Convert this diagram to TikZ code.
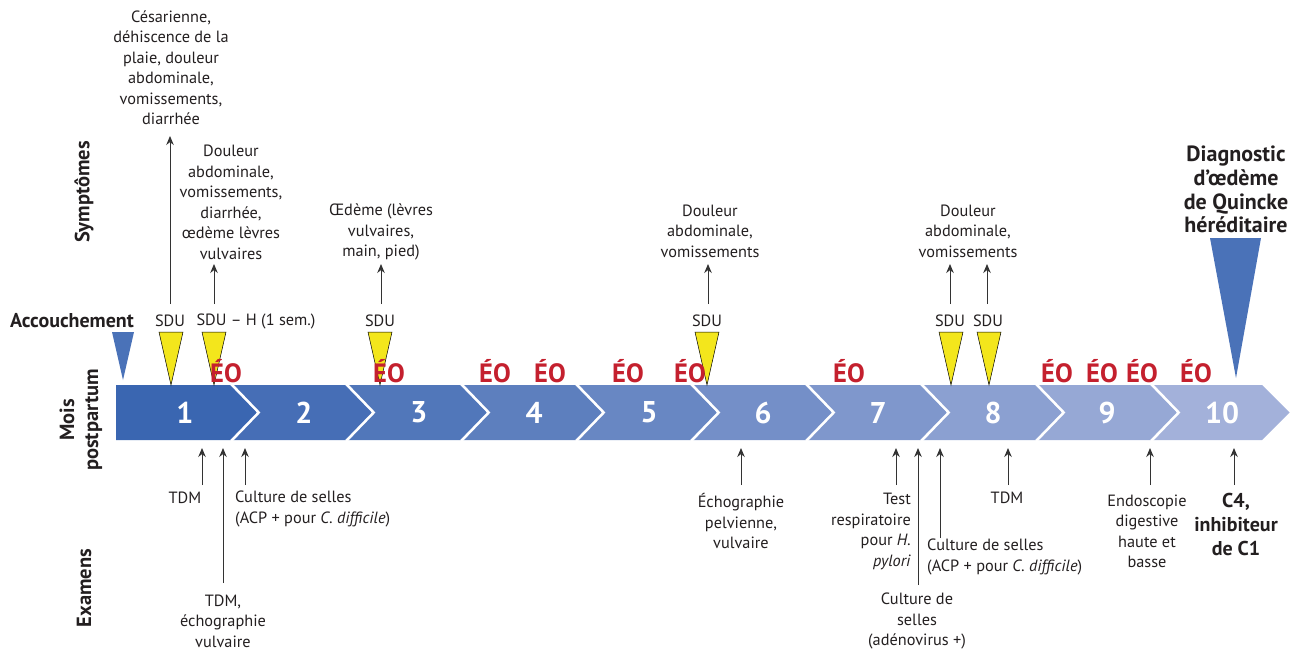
\documentclass[tikz,border=0pt]{standalone}
\usepackage{fontspec}
\setmainfont{PT Sans}
\usetikzlibrary{arrows.meta}
\definecolor{txtc}{HTML}{231F20}
\definecolor{eored}{HTML}{C4202E}
\definecolor{sduy}{HTML}{F3E61C}
\definecolor{mblue}{HTML}{4A72B8}
\definecolor{cA}{HTML}{3A66B1}
\definecolor{cB}{HTML}{A3B1DA}
\definecolor{arrc}{HTML}{333333}
\tikzset{
  txt/.style={font=\fontsize{16.3}{20.5}\selectfont, align=center, inner sep=0pt, text=txtc},
  btxt/.style={font=\bfseries\fontsize{22}{23.7}\selectfont, align=center, inner sep=0pt, text=txtc},
  ctxt/.style={font=\bfseries\fontsize{20}{24}\selectfont, align=center, inner sep=0pt, text=txtc},
  eo/.style={font=\bfseries\fontsize{26.5}{26.5}\selectfont, text=eored, inner sep=0pt},
  num/.style={font=\bfseries\fontsize{30}{30}\selectfont, text=white, inner sep=0pt},
  side/.style={font=\bfseries\fontsize{20.5}{24}\selectfont, rotate=90, align=center, inner sep=0pt, text=txtc},
  arr/.style={-{Stealth[length=9pt,width=7.5pt]}, line width=0.9pt, draw=arrc},
  sdutri/.style={fill=sduy, draw=black, line width=0.5pt},
  bluetri/.style={fill=mblue},
}
\begin{document}
\begin{tikzpicture}[x=1pt,y=-1pt]
\useasboundingbox (0,0) rectangle (1294,654);

% ---- chevron band ----
\foreach \k in {1,...,10} {
  \pgfmathtruncatemacro\p{(\k-1)/9*100}
  \colorlet{chc}{cB!\p!cA}
  \pgfmathsetmacro\R{\k==10 ? 1262 : 230+115*(\k-1)}
  \pgfmathsetmacro\L{230+115*(\k-2)}
  \ifnum\k=1
    \fill[chc] (116,385) -- (\R,385) -- (\R+27.5,412.5) -- (\R,440) -- (116,440) -- cycle;
  \else
    \fill[chc] (\L,385) -- (\R,385) -- (\R+27.5,412.5) -- (\R,440) -- (\L,440) -- (\L+27.5,412.5) -- cycle;
  \fi
}
\foreach \k in {1,...,9} {
  \pgfmathsetmacro\R{230+115*(\k-1)}
  \draw[white, line width=2.5pt] (\R+1.2,384) -- (\R+28.7,412.5) -- (\R+1.2,441);
}
\foreach \x [count=\i] in {185,304,419,534,649,763,878,993,1107,1222}
  \node[num] (n\i) at (\x,412.5) {\i};

% ---- markers ----
\fill[bluetri] (112,332) -- (134,332) -- (123,380) -- cycle;
\coordinate (acc) at (123,380);
\foreach \x [count=\i] in {171,214,380,707,951,989} {
  \draw[sdutri] (\x-12,332) -- (\x+12,332) -- (\x,385) -- cycle;
  \coordinate (m\i) at (\x,385);
}
\fill[bluetri] (1210,238) -- (1261,238) -- (1236,378) -- cycle;
\coordinate (dg) at (1236,378);

% ---- ÉO ----
\foreach \x [count=\i] in {226,389,495,550,628,690,849,1057,1102,1142,1196}
  \node[eo] (eo\i) at (\x,371) {ÉO};

% ---- side labels ----
\node[side] (symp) at (84,192) {Symptômes};
\node[side] (mois) at (81,420) {Mois\\postpartum};
\node[side] (exam) at (84,588) {Examens};
\node[font=\bfseries\fontsize{20}{24}\selectfont, inner sep=0pt, text=txtc] (accl) at (72,321) {Accouchement};

% ---- SDU labels ----
\node[txt] (sdu1) at (170,321) {SDU};
\node[txt] (sdu2) at (256,321) {SDU – H (1 sem.)};
\node[txt] (sdu3) at (380,321) {SDU};
\node[txt] (sdu4) at (707,321) {SDU};
\node[txt] (sdu5) at (950,321) {SDU};
\node[txt] (sdu6) at (988,321) {SDU};

% ---- symptoms ----
\node[txt] (ces) at (171,67.5) {Césarienne,\\déhiscence de la\\plaie, douleur\\abdominale,\\vomissements,\\diarrhée};
\node[txt] (dou1) at (231,202.5) {Douleur\\abdominale,\\vomissements,\\diarrhée,\\œdème lèvres\\vulvaires};
\node[txt] (oed) at (381,232) {Œdème (lèvres\\vulvaires,\\main, pied)};
\node[txt] (dou6) at (710,231) {Douleur\\abdominale,\\vomissements};
\node[txt] (dou8) at (968,231) {Douleur\\abdominale,\\vomissements};

\coordinate (a1b) at (170,304); \coordinate (a1t) at (170,136);
\coordinate (a2b) at (214,304); \coordinate (a2t) at (214,264);
\coordinate (a3b) at (381,304); \coordinate (a3t) at (381,264);
\coordinate (a4b) at (708,304); \coordinate (a4t) at (708,264);
\coordinate (a5b) at (950,304); \coordinate (a5t) at (950,264);
\coordinate (a6b) at (987,304); \coordinate (a6t) at (987,264);
\foreach \i in {1,...,6} \draw[arr] (a\i b) -- (a\i t);

% ---- diagnostic ----
\node[btxt] (diag) at (1236,189.5) {Diagnostic\\d’œdème\\de Quincke\\héréditaire};

% ---- exams ----
\node[txt] (tdm1) at (185,498) {TDM};
\node[txt, align=left, anchor=west] (cul1) at (235,509) {Culture de selles\\(ACP + pour \textit{C. difficile})};
\node[txt] (tdme) at (223,621) {TDM,\\échographie\\vulvaire};
\node[txt] (echo) at (741,521) {Échographie\\pelvienne,\\vulvaire};
\node[txt, align=right, anchor=east] (test) at (911,531.5) {Test\\respiratoire\\pour \textit{H.}\\\textit{pylori}};
\node[txt, align=left, anchor=west] (cul2) at (927,557) {Culture de selles\\(ACP + pour \textit{C. difficile})};
\node[txt] (cul3) at (917,621) {Culture de\\selles\\(adénovirus +)};
\node[txt] (tdm8) at (1007,498) {TDM};
\node[txt] (endo) at (1147,531.5) {Endoscopie\\digestive\\haute et\\basse};
\node[ctxt] (c4) at (1236,524) {C4,\\inhibiteur\\de C1};

\foreach \x/\yb [count=\i] in {202/485,223/583,245/485,741/485,896/485,918/585,940/538,1008/485,1150/485,1234/485} {
  \coordinate (eb\i) at (\x,\yb);
  \coordinate (et\i) at (\x,448);
}
\foreach \i in {1,...,10} \draw[arr] (eb\i) -- (et\i);
\end{tikzpicture}
\end{document}
